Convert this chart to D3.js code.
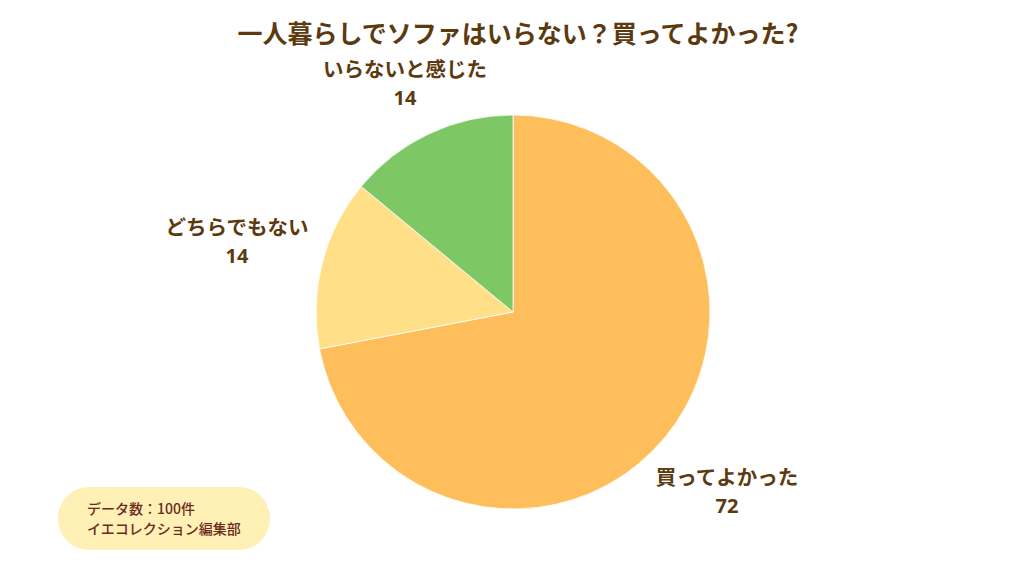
<!DOCTYPE html>
<html><head><meta charset="utf-8">
<script src="https://cdn.jsdelivr.net/npm/d3@7"></script>
<style>body{margin:0;background:#fff;} svg{display:block;}</style>
</head><body>
<svg id="c" width="1024" height="576"></svg>
<script>
const categories = ["買ってよかった", "どちらでもない", "いらないと感じた"];
const values = [72, 14, 14];
const colors = ["#FFBE5C", "#FFDF87", "#7DC765"];
const title = "一人暮らしでソファはいらない？買ってよかった?";
const noteLines = ["データ数：100件", "イエコレクション編集部"];

const svg = d3.select("#c");
const font = "'Noto Sans CJK JP', sans-serif";
const numFont = "'Noto Sans', sans-serif";
const textColor = "#5C3A10";
const cx = 513, cy = 312, r = 197;

svg.append("text").attr("x", 518).attr("y", 43).attr("text-anchor", "middle")
  .attr("font-family", font).attr("font-weight", 700).attr("font-size", 25)
  .attr("fill", textColor).text(title);

const pie = d3.pie().sort(null).value(d => d)(values);
const arc = d3.arc().innerRadius(0).outerRadius(r);
const g = svg.append("g").attr("transform", `translate(${cx},${cy})`);
g.selectAll("path").data(pie).join("path").attr("d", arc)
  .attr("fill", (d, i) => colors[i]).attr("stroke", "#fff").attr("stroke-width", 0.8);

const labelPos = [[727, 485], [237, 235], [405, 77]];
pie.forEach((d, i) => {
  svg.append("text").attr("text-anchor", "middle")
    .attr("font-family", font).attr("font-weight", 700).attr("font-size", 20.5)
    .attr("fill", textColor)
    .attr("x", labelPos[i][0]).attr("y", labelPos[i][1]).text(categories[i]);
  svg.append("text").attr("text-anchor", "middle")
    .attr("font-family", numFont).attr("font-weight", 700).attr("font-size", 20)
    .attr("fill", textColor)
    .attr("x", labelPos[i][0]).attr("y", labelPos[i][1] + 28).text(values[i]);
});

svg.append("rect").attr("x", 58).attr("y", 487).attr("width", 212).attr("height", 63)
  .attr("rx", 31).attr("fill", "#FFF0B5");
noteLines.forEach((l, i) => {
  svg.append("text").attr("x", 87).attr("y", 514 + i * 20)
    .attr("font-family", font).attr("font-weight", 500).attr("font-size", 14)
    .attr("fill", "#6B2A1A").text(l);
});
</script>
</body></html>
